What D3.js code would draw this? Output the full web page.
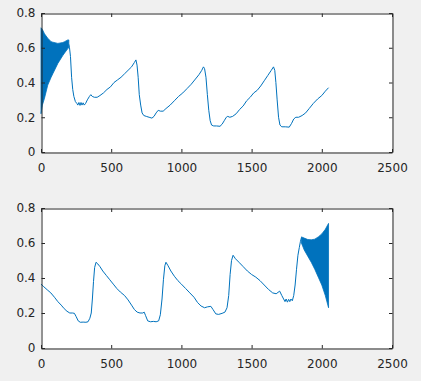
<!DOCTYPE html>
<html lang="en">
<head>
<meta charset="UTF-8">
<script src="https://d3js.org/d3.v7.min.js"></script>
<style>
  body { margin: 0; background: #f0f0f0; }
  svg { display: block; }
  .tick text { font-family: "DejaVu Sans", sans-serif; font-size: 12px; fill: #262626; }
  .domain, .tick line { stroke: #262626; }
</style>
</head>
<body>
<div id="chart"></div>
<script>
// x ticks / y ticks shared by both panels
var xTicks = [0, 500, 1000, 1500, 2000, 2500];
var yTicks = [0, 0.2, 0.4, 0.6, 0.8];

// top panel: dense oscillating start (upper / lower envelope)
var topBandX = [0, 10, 25, 48, 72, 84, 120, 155, 168, 191, 198];
var topBandHi = [0.715, 0.705, 0.68, 0.655, 0.635, 0.632, 0.625, 0.63, 0.635, 0.645, 0.645];
var topBandLo = [0.22, 0.27, 0.31, 0.385, 0.43, 0.45, 0.51, 0.555, 0.57, 0.595, 0.6];

// top panel: rest of the trace
var topX = [198, 203, 210, 218, 226, 234, 245, 255, 262, 270, 278, 285, 292, 300, 308, 318, 330, 345, 355, 365,
  380, 400, 420, 445, 470, 495, 520, 545, 570, 595, 620, 645, 665, 676, 684, 692, 700, 710, 720, 732,
  750, 770, 790, 805, 820, 835, 850, 870, 890, 920, 950, 980, 1010, 1040, 1070, 1100, 1125, 1145, 1157, 1165,
  1175, 1185, 1195, 1205, 1215, 1230, 1250, 1275, 1290, 1305, 1320, 1330, 1345, 1365, 1390, 1415, 1440, 1465, 1490, 1515,
  1540, 1565, 1590, 1615, 1640, 1656, 1665, 1673, 1682, 1692, 1702, 1715, 1740, 1768, 1785, 1800, 1815, 1835, 1860, 1885,
  1910, 1940, 1970, 2000, 2025, 2048];
var topY = [0.62, 0.6, 0.55, 0.43, 0.36, 0.32, 0.29, 0.28, 0.27, 0.285, 0.268, 0.285, 0.27, 0.283, 0.27, 0.28, 0.30, 0.32, 0.33, 0.32,
  0.315, 0.315, 0.325, 0.34, 0.36, 0.375, 0.40, 0.415, 0.43, 0.45, 0.47, 0.49, 0.515, 0.53, 0.50, 0.43, 0.33, 0.27, 0.225, 0.21,
  0.205, 0.2, 0.195, 0.205, 0.225, 0.24, 0.235, 0.235, 0.25, 0.27, 0.295, 0.32, 0.34, 0.365, 0.39, 0.42, 0.445, 0.47, 0.49, 0.48,
  0.43, 0.33, 0.24, 0.18, 0.155, 0.15, 0.15, 0.148, 0.16, 0.18, 0.2, 0.205, 0.2, 0.205, 0.22, 0.245, 0.265, 0.295, 0.315, 0.34,
  0.355, 0.38, 0.41, 0.44, 0.47, 0.49, 0.47, 0.40, 0.30, 0.2, 0.155, 0.145, 0.145, 0.143, 0.165, 0.19, 0.2, 0.2, 0.21, 0.225,
  0.25, 0.28, 0.305, 0.325, 0.35, 0.37];

// bottom panel: trace up to the oscillating end
var botX = [0, 20, 48, 70, 96, 120, 144, 165, 185, 205, 225, 238, 250, 265, 280, 300, 320, 335, 348, 358,
  366, 374, 382, 392, 405, 420, 440, 465, 490, 515, 540, 565, 595, 620, 645, 665, 685, 705, 725, 735,
  745, 760, 780, 800, 820, 838, 850, 862, 872, 882, 890, 905, 925, 950, 975, 1000, 1030, 1060, 1090, 1115,
  1140, 1165, 1185, 1210, 1225, 1245, 1265, 1290, 1310, 1325, 1337, 1347, 1357, 1368, 1385, 1410, 1440, 1470, 1500, 1530,
  1560, 1590, 1620, 1650, 1675, 1700, 1715, 1728, 1738, 1746, 1755, 1764, 1772, 1780, 1790, 1800, 1810, 1820, 1830, 1840,
  1848, 1855];
var botY = [0.365, 0.35, 0.33, 0.315, 0.29, 0.265, 0.245, 0.225, 0.21, 0.2, 0.2, 0.198, 0.18, 0.155, 0.147, 0.148, 0.147, 0.15, 0.17, 0.2,
  0.28, 0.38, 0.46, 0.49, 0.48, 0.465, 0.44, 0.415, 0.39, 0.365, 0.34, 0.32, 0.3, 0.275, 0.245, 0.22, 0.205, 0.2, 0.2, 0.205,
  0.185, 0.155, 0.15, 0.152, 0.15, 0.155, 0.19, 0.28, 0.39, 0.47, 0.49, 0.47, 0.44, 0.41, 0.385, 0.365, 0.34, 0.315, 0.29, 0.26,
  0.24, 0.23, 0.235, 0.238, 0.22, 0.195, 0.192, 0.198, 0.205, 0.23, 0.3, 0.42, 0.5, 0.53, 0.51, 0.49, 0.465, 0.44, 0.42, 0.405,
  0.385, 0.36, 0.335, 0.315, 0.31, 0.325, 0.3, 0.28, 0.265, 0.28, 0.262, 0.278, 0.265, 0.28, 0.27, 0.3, 0.36, 0.45, 0.53, 0.575,
  0.61, 0.63];

// bottom panel: dense oscillating end (upper / lower envelope)
var botBandX = [1855, 1875, 1900, 1925, 1950, 1975, 2000, 2025, 2048];
var botBandHi = [0.635, 0.628, 0.62, 0.618, 0.622, 0.635, 0.652, 0.678, 0.712];
var botBandLo = [0.60, 0.56, 0.525, 0.49, 0.45, 0.405, 0.36, 0.30, 0.23];

var W = 421, H = 381;
var blue = "#0072bd";

var svg = d3.select("#chart").append("svg")
  .attr("width", W)
  .attr("height", H);

function panel(top, bottom, lineX, lineY, bandX, bandHi, bandLo) {
  var left = 41, right = 392;
  var x = d3.scaleLinear().domain([0, 2500]).range([left, right]);
  var y = d3.scaleLinear().domain([0, 0.8]).range([bottom, top]);

  var g = svg.append("g");

  g.append("rect")
    .attr("x", left).attr("y", top)
    .attr("width", right - left).attr("height", bottom - top)
    .attr("fill", "#fff");

  // band drawn as filled area between envelopes
  var band = bandX.map(function(d, i) { return [d, bandHi[i], bandLo[i]]; });
  g.append("path")
    .datum(band)
    .attr("fill", blue)
    .attr("stroke", blue)
    .attr("stroke-width", 0.8)
    .attr("d", d3.area()
      .x(function(d) { return x(d[0]); })
      .y0(function(d) { return y(d[2]); })
      .y1(function(d) { return y(d[1]); }));

  var pts = lineX.map(function(d, i) { return [d, lineY[i]]; });
  g.append("path")
    .datum(pts)
    .attr("fill", "none")
    .attr("stroke", blue)
    .attr("stroke-width", 1)
    .attr("d", d3.line()
      .x(function(d) { return x(d[0]); })
      .y(function(d) { return y(d[1]); }));

  // axes, ticks pointing inward, box on all sides
  g.append("g")
    .attr("transform", "translate(0," + (bottom + 0.5) + ")")
    .call(d3.axisBottom(x).tickValues(xTicks).tickSizeInner(-3.5).tickSizeOuter(0).tickPadding(11)
      .tickFormat(d3.format("d")));
  g.append("g")
    .attr("transform", "translate(0," + (top + 0.5) + ")")
    .call(d3.axisTop(x).tickValues(xTicks).tickSizeInner(-3.5).tickSizeOuter(0).tickFormat(""));
  g.append("g")
    .attr("transform", "translate(" + (left + 0.5) + ",0)")
    .call(d3.axisLeft(y).tickValues(yTicks).tickSizeInner(-3.5).tickSizeOuter(0).tickPadding(6)
      .tickFormat(function(d) { return d === 0 ? "0" : d3.format(".1f")(d); }));
  g.append("g")
    .attr("transform", "translate(" + (right + 0.5) + ",0)")
    .call(d3.axisRight(y).tickValues(yTicks).tickSizeInner(-3.5).tickSizeOuter(0).tickFormat(""));
}

panel(13, 152, topX, topY, topBandX, topBandHi, topBandLo);
panel(208, 348, botX, botY, botBandX, botBandHi, botBandLo);
</script>
</body>
</html>
